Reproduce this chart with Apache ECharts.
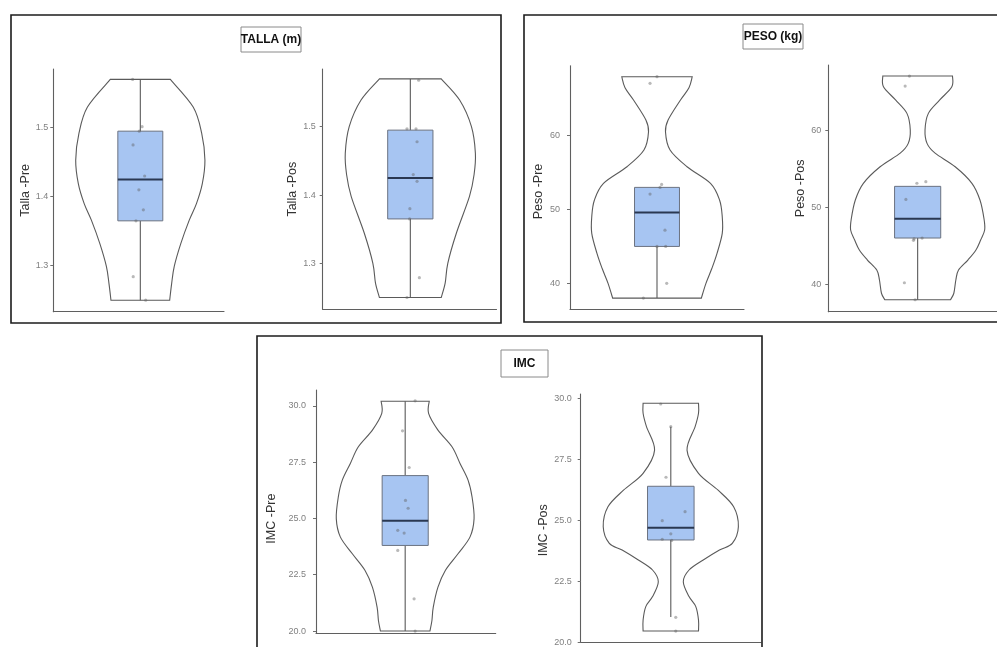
<!DOCTYPE html>
<html><head><meta charset="utf-8">
<script src="https://cdn.jsdelivr.net/npm/echarts@6/dist/echarts.min.js"></script>
<style>html,body{margin:0;padding:0;background:#fff}#c{width:997px;height:647px}</style>
</head><body><div id="c"></div><script>
// ---------- DATA ----------
const axisNames = ['Talla -Pre', 'Talla -Pos', 'Peso -Pre', 'Peso -Pos', 'IMC -Pre', 'IMC -Pos'];
const panelTitles = ['TALLA (m)', 'PESO (kg)', 'IMC'];

const tallaTicks = [1.3, 1.4, 1.5];
const pesoTicks = [40, 50, 60];
const imcTicks = [20.0, 22.5, 25.0, 27.5, 30.0];

// violin outlines: [value, relative half width], top to bottom
const tallaPreViolin = [[1.57,0.46],[1.53,0.81],[1.492,0.94],[1.453,0.99],[1.419,0.95],[1.39,0.86],[1.366,0.75],[1.332,0.62],[1.299,0.52],[1.274,0.48],[1.25,0.45]];
const tallaPosViolin = [[1.57,0.47],[1.539,0.75],[1.5,0.93],[1.461,0.99],[1.43,0.97],[1.398,0.90],[1.344,0.70],[1.3,0.57],[1.271,0.53],[1.25,0.47]];
const pesoPreViolin = [[68.0,0.54],[66.5,0.49],[64.84,0.36],[62.13,0.17],[60.54,0.13],[58.06,0.20],[55.8,0.46],[53.55,0.82],[51.26,0.96],[49.0,1.0],[46.77,1.0],[44.06,0.92],[42.0,0.84],[40.0,0.75],[38.0,0.68]];
const pesoPosViolin = [[67.0,0.52],[65.6,0.51],[63.9,0.33],[62.16,0.16],[60.0,0.11],[58.27,0.14],[57.0,0.26],[55.24,0.56],[53.09,0.81],[50.93,0.93],[48.5,0.99],[47.04,1.0],[45.74,0.94],[44.45,0.87],[43.15,0.75],[41.85,0.61],[40.56,0.57],[38.84,0.54],[38.0,0.49]];
const imcPreViolin = [[30.2,0.36],[29.66,0.35],[28.92,0.49],[28.18,0.70],[27.44,0.82],[26.70,0.94],[25.95,1.0],[24.99,1.03],[24.18,0.97],[23.43,0.79],[22.69,0.60],[21.95,0.49],[21.06,0.42],[20.47,0.40],[20.0,0.37]];
const imcPosViolin = [[29.8,0.41],[29.39,0.41],[28.84,0.36],[27.88,0.24],[26.93,0.41],[26.24,0.70],[25.56,0.93],[24.74,1.0],[24.06,0.91],[23.79,0.72],[23.38,0.48],[22.97,0.27],[22.49,0.185],[21.88,0.27],[21.47,0.37],[20.92,0.41],[20.47,0.41]];

// box stats: [lower whisker, Q1, median, Q3, upper whisker]
const tallaPreBox = [1.25, 1.365, 1.425, 1.495, 1.57];
const tallaPosBox = [1.25, 1.365, 1.425, 1.495, 1.57];
const pesoPreBox = [38, 45, 49.6, 53, 53];
const pesoPosBox = [38, 46, 48.5, 52.7, 52.7];
const imcPreBox = [20.0, 23.8, 24.9, 26.9, 30.2];
const imcPosBox = [21.04, 24.2, 24.7, 26.4, 28.84];

// individual observations and their horizontal jitter
const tallaPre = [1.57, 1.5015, 1.495, 1.475, 1.43, 1.41, 1.381, 1.365, 1.284, 1.25];
const tallaPreJitter = [-0.053, 0.012, -0.007, -0.05, 0.03, -0.01, 0.021, -0.03, -0.049, 0.037];
const tallaPos = [1.568, 1.497, 1.497, 1.478, 1.43, 1.42, 1.38, 1.365, 1.279, 1.25];
const tallaPosJitter = [0.057, -0.023, 0.039, 0.046, 0.02, 0.046, -0.003, -0.005, 0.062, -0.023];
const pesoPre = [68, 67.1, 53.4, 53.0, 52.1, 47.2, 45, 45, 40, 38];
const pesoPreJitter = [0, -0.048, 0.032, 0.021, -0.048, 0.055, 0, 0.06, 0.067, -0.094];
const pesoPos = [67.0, 65.7, 53.3, 53.1, 51, 46.0, 45.9, 45.7, 40.2, 38];
const pesoPosJitter = [-0.055, -0.084, 0.055, -0.005, -0.079, 0.03, -0.024, -0.028, -0.089, -0.017];
const imcPre = [30.22, 28.89, 27.26, 25.8, 25.45, 24.47, 24.35, 23.58, 21.43, 20.0];
const imcPreJitter = [0.067, -0.018, 0.027, 0.002, 0.02, -0.05, -0.007, -0.05, 0.06, 0.067];
const imcPos = [29.77, 28.84, 26.77, 25.36, 24.99, 24.45, 24.23, 24.18, 21.03, 20.47];
const imcPosJitter = [-0.067, 0, -0.032, 0.095, -0.057, 0.0, -0.057, 0.006, 0.033, 0.033];

// ---------- LAYOUT ----------
const layout = [
  {left:53.3, top:69, width:170.7, height:242.7, ymin:1.2333, ymax:1.5851, xmax:1.577, gap:21, margin:5, pad:0},
  {left:322.7, top:69, width:173.8, height:240.3, ymin:1.2327, ymax:1.5845, xmax:1.59, gap:19, margin:7, pad:0},
  {left:570, top:65.7, width:174, height:243.6, ymin:36.48, ymax:69.49, xmax:1.6, gap:25, margin:10, pad:8},
  {left:828.3, top:65, width:172, height:246.7, ymin:36.45, ymax:68.43, xmax:1.555, gap:17, margin:7, pad:0},
  {left:316, top:390, width:179.7, height:243.3, ymin:19.9, ymax:30.7, xmax:1.609, gap:38, margin:10, pad:14},
  {left:580.7, top:394, width:180.2, height:248.5, ymin:20.0, ymax:30.18, xmax:1.6, gap:25.5, margin:9, pad:24}
];
const panels = [
  {violin:tallaPreViolin, box:tallaPreBox, pts:tallaPre, jit:tallaPreJitter, ticks:tallaTicks, dec:1},
  {violin:tallaPosViolin, box:tallaPosBox, pts:tallaPos, jit:tallaPosJitter, ticks:tallaTicks, dec:1},
  {violin:pesoPreViolin, box:pesoPreBox, pts:pesoPre, jit:pesoPreJitter, ticks:pesoTicks, dec:0},
  {violin:pesoPosViolin, box:pesoPosBox, pts:pesoPos, jit:pesoPosJitter, ticks:pesoTicks, dec:0},
  {violin:imcPreViolin, box:imcPreBox, pts:imcPre, jit:imcPreJitter, ticks:imcTicks, dec:1},
  {violin:imcPosViolin, box:imcPosBox, pts:imcPos, jit:imcPosJitter, ticks:imcTicks, dec:1}
];
const HALF = 0.45, BOXW = 0.155;
const FONT = '"Liberation Sans", Arial, sans-serif';

function spline(pts) {
  let d = '';
  for (let i = 0; i < pts.length - 1; i++) {
    const p0 = pts[i - 1] || pts[i], p1 = pts[i], p2 = pts[i + 1], p3 = pts[i + 2] || pts[i + 1];
    const c1 = [p1[0] + (p2[0] - p0[0]) / 6, p1[1] + (p2[1] - p0[1]) / 6];
    const c2 = [p2[0] - (p3[0] - p1[0]) / 6, p2[1] - (p3[1] - p1[1]) / 6];
    d += ' C' + c1[0] + ' ' + c1[1] + ' ' + c2[0] + ' ' + c2[1] + ' ' + p2[0] + ' ' + p2[1];
  }
  return d;
}
function violinItem(profile) {
  return function (params, api) {
    if (params.dataIndex !== 0) return null;
    const L = profile.map(p => api.coord([1 - HALF * p[1], p[0]]));
    const R = profile.map(p => api.coord([1 + HALF * p[1], p[0]])).reverse();
    const d = 'M' + L[0][0] + ' ' + L[0][1] + spline(L) + ' L' + R[0][0] + ' ' + R[0][1] + spline(R) + ' Z';
    return {type: 'path', shape: {pathData: d}, style: {fill: '#fff', stroke: '#5a5a5a', lineWidth: 1.1}};
  };
}
function boxItem(params, api) {
  const lo = api.value(1), q1 = api.value(2), med = api.value(3), q3 = api.value(4), hi = api.value(5);
  const c = (x, v) => api.coord([x, v]);
  const a = c(1 - BOXW, q3), b = c(1 + BOXW, q1);
  const ls = {stroke: '#5a5a5a', lineWidth: 1.1};
  const kids = [];
  if (hi > q3) kids.push({type:'line', shape:{x1:c(1,q3)[0], y1:c(1,q3)[1], x2:c(1,hi)[0], y2:c(1,hi)[1]}, style:ls});
  if (lo < q1) kids.push({type:'line', shape:{x1:c(1,q1)[0], y1:c(1,q1)[1], x2:c(1,lo)[0], y2:c(1,lo)[1]}, style:ls});
  kids.push({type:'rect', shape:{x:a[0], y:a[1], width:b[0]-a[0], height:b[1]-a[1]}, style:{fill:'#a7c5f2', stroke:'#6b7280', lineWidth:1}});
  const m1 = c(1 - BOXW, med), m2 = c(1 + BOXW, med);
  kids.push({type:'line', shape:{x1:m1[0], y1:m1[1], x2:m2[0], y2:m2[1]}, style:{stroke:'#2a3852', lineWidth:2}});
  return {type:'group', children:kids};
}

const grid = [], xAxis = [], yAxis = [], series = [];
layout.forEach((g, i) => {
  const P = panels[i];
  grid.push({left:g.left, top:g.top, width:g.width, height:g.height, containLabel:false, outerBoundsMode:'none'});
  xAxis.push({type:'value', gridIndex:i, min:0.4, max:g.xmax, axisLine:{show:true, lineStyle:{color:'#5f5f5f', width:1.1}},
    axisTick:{show:false}, axisLabel:{show:false}, splitLine:{show:false}});
  yAxis.push({type:'value', gridIndex:i, min:g.ymin, max:g.ymax, name:axisNames[i], nameLocation:'middle', nameGap:g.gap,
    nameTextStyle:{fontFamily:FONT, fontSize:12.5, color:'#333', padding:[0, g.pad, 0, 0]},
    axisLine:{show:true, lineStyle:{color:'#5f5f5f', width:1.1}},
    axisTick:{show:true, length:3, customValues:P.ticks, lineStyle:{color:'#6f6f6f'}},
    axisLabel:{show:true, customValues:P.ticks, margin:g.margin, fontFamily:FONT, fontSize:9, color:'#808080',
      formatter: v => Number(v).toFixed(P.dec)},
    splitLine:{show:false}});
  series.push({type:'custom', xAxisIndex:i, yAxisIndex:i, z:1, silent:true, clip:false,
    data: P.violin.map(p => [1, p[0], p[1]]), renderItem: violinItem(P.violin)});
  series.push({type:'custom', xAxisIndex:i, yAxisIndex:i, z:2, silent:true, clip:false,
    data: [[1].concat(P.box)], renderItem: boxItem});
  series.push({type:'scatter', xAxisIndex:i, yAxisIndex:i, z:3, silent:true, symbolSize:3.2,
    itemStyle:{color:'rgba(95,95,95,0.55)'}, data: P.pts.map((v, k) => [1 + P.jit[k], v])});
});

function titleBox(x, y, w, h, text) {
  return [
    {type:'rect', shape:{x:x, y:y, width:w, height:h}, style:{fill:'#fff', stroke:'#8a8a8a', lineWidth:1}, z:10},
    {type:'text', x:x + w / 2, y:y + h / 2 + 0.5, z:11, style:{text:text, font:'bold 12px "Liberation Sans Narrow", "Liberation Sans", Arial',
      fill:'#111', align:'center', verticalAlign:'middle', textAlign:'center', textVerticalAlign:'middle'}}
  ];
}
const graphic = [
  {type:'rect', shape:{x:11, y:15, width:490, height:308}, style:{fill:'none', stroke:'#1c1c1c', lineWidth:1.6}, z:9},
  {type:'rect', shape:{x:524, y:15, width:480, height:307}, style:{fill:'none', stroke:'#1c1c1c', lineWidth:1.6}, z:9},
  {type:'rect', shape:{x:257, y:336, width:505, height:330}, style:{fill:'none', stroke:'#1c1c1c', lineWidth:1.6}, z:9}
].concat(titleBox(241, 27, 60, 25, panelTitles[0]), titleBox(743, 24, 60, 25, panelTitles[1]), titleBox(501, 350, 47, 27, panelTitles[2]));

const chart = echarts.init(document.getElementById('c'), null, {renderer:'canvas'});
chart.setOption({animation:false, backgroundColor:'#fff', grid, xAxis, yAxis, series, graphic});
</script></body></html>
